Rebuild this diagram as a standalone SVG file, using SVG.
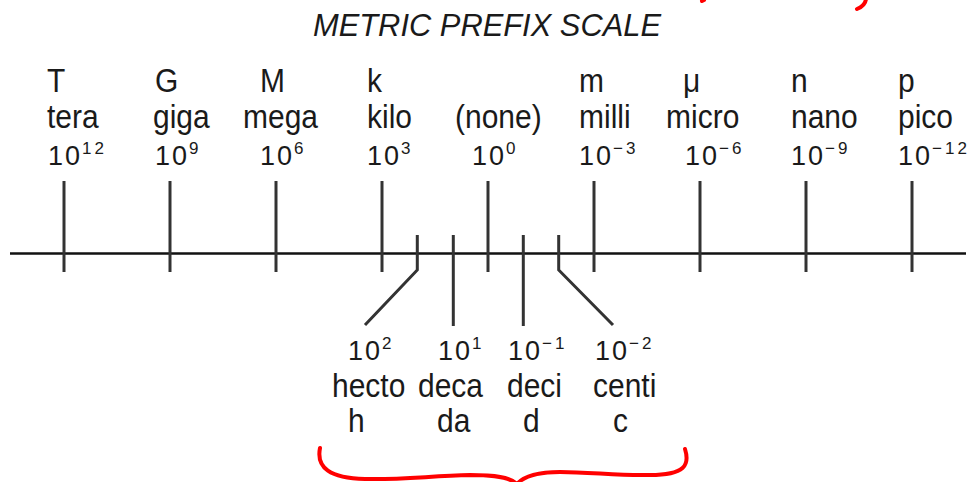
<svg xmlns="http://www.w3.org/2000/svg" width="972" height="482" viewBox="0 0 972 482">
<style>
  text { font-family: "Liberation Sans", Arial, sans-serif; fill: #1a1a1a; }
  .title { font-size: 29px; font-style: italic; }
  .lbl { font-size: 30px; }
  .num { font-size: 27px; letter-spacing: 2px; }
  .sup { font-size: 17px; letter-spacing: 3px; }
  .axis { stroke: #111; stroke-width: 2.5; fill: none; }
  .tick { stroke: #333; stroke-width: 3; fill: none; stroke-linejoin: miter; }
  .red { stroke: #ff0000; stroke-width: 4; fill: none; stroke-linecap: round; stroke-linejoin: round; }
</style>
<rect width="972" height="482" fill="#ffffff"/>

<text class="title" x="487" y="36" text-anchor="middle" textLength="348" lengthAdjust="spacingAndGlyphs" transform="translate(0,-4) scale(1,1.1)">METRIC PREFIX SCALE</text>

<g id="connectors">
  <line class="axis" x1="10" y1="253.5" x2="966" y2="253.5"/>
  <line class="tick" x1="64" y1="181" x2="64" y2="272"/>
  <line class="tick" x1="170" y1="181" x2="170" y2="272"/>
  <line class="tick" x1="276" y1="181" x2="276" y2="272"/>
  <line class="tick" x1="382" y1="181" x2="382" y2="272"/>
  <line class="tick" x1="488" y1="181" x2="488" y2="272"/>
  <line class="tick" x1="594" y1="181" x2="594" y2="272"/>
  <line class="tick" x1="700" y1="181" x2="700" y2="272"/>
  <line class="tick" x1="806" y1="181" x2="806" y2="272"/>
  <line class="tick" x1="912" y1="181" x2="912" y2="272"/>
  <polyline class="tick" points="417.3,235 417.3,270 365,325"/>
  <line class="tick" x1="453.3" y1="235" x2="453.3" y2="326"/>
  <line class="tick" x1="523.3" y1="235" x2="523.3" y2="326"/>
  <polyline class="tick" points="558.7,235 558.7,270 613,325"/>
</g>

<g id="tera">
  <text class="lbl" transform="translate(47,92) scale(1,1.12)">T</text>
  <text class="lbl" transform="translate(47,128) scale(1,1.12)">tera</text>
  <text class="num" x="48" y="165">10<tspan class="sup" dy="-11">12</tspan></text>
</g>
<g id="giga">
  <text class="lbl" transform="translate(155,92) scale(1,1.12)">G</text>
  <text class="lbl" transform="translate(153,128) scale(1,1.12)">giga</text>
  <text class="num" x="155" y="165">10<tspan class="sup" dy="-11">9</tspan></text>
</g>
<g id="mega">
  <text class="lbl" transform="translate(260,92) scale(1,1.12)">M</text>
  <text class="lbl" transform="translate(243,128) scale(1,1.12)">mega</text>
  <text class="num" x="260" y="165">10<tspan class="sup" dy="-11">6</tspan></text>
</g>
<g id="kilo">
  <text class="lbl" transform="translate(367,92) scale(1,1.12)">k</text>
  <text class="lbl" transform="translate(367,128) scale(1,1.12)">kilo</text>
  <text class="num" x="367" y="165">10<tspan class="sup" dy="-11">3</tspan></text>
</g>
<g id="none">
  <text class="lbl" transform="translate(455,128) scale(1,1.12)">(none)</text>
  <text class="num" x="472" y="165">10<tspan class="sup" dy="-11">0</tspan></text>
</g>
<g id="milli">
  <text class="lbl" transform="translate(579,92) scale(1,1.12)">m</text>
  <text class="lbl" transform="translate(579,128) scale(1,1.12)">milli</text>
  <text class="num" x="579" y="165">10<tspan class="sup" dy="-11">−3</tspan></text>
</g>
<g id="micro">
  <text class="lbl" transform="translate(683,92) scale(1,1.12)">μ</text>
  <text class="lbl" transform="translate(666,128) scale(1,1.12)">micro</text>
  <text class="num" x="685" y="165">10<tspan class="sup" dy="-11">−6</tspan></text>
</g>
<g id="nano">
  <text class="lbl" transform="translate(791,92) scale(1,1.12)">n</text>
  <text class="lbl" transform="translate(791,128) scale(1,1.12)">nano</text>
  <text class="num" x="791" y="165">10<tspan class="sup" dy="-11">−9</tspan></text>
</g>
<g id="pico">
  <text class="lbl" transform="translate(898,92) scale(1,1.12)">p</text>
  <text class="lbl" transform="translate(898,128) scale(1,1.12)">pico</text>
  <text class="num" x="898" y="165">10<tspan class="sup" dy="-11">−12</tspan></text>
</g>

<g id="hecto">
  <text class="num" x="348" y="360">10<tspan class="sup" dy="-11">2</tspan></text>
  <text class="lbl" transform="translate(332,397) scale(1,1.12)">hecto</text>
  <text class="lbl" transform="translate(348,432) scale(1,1.12)">h</text>
</g>
<g id="deca">
  <text class="num" x="438" y="360">10<tspan class="sup" dy="-11">1</tspan></text>
  <text class="lbl" transform="translate(418,397) scale(1,1.12)">deca</text>
  <text class="lbl" transform="translate(437,432) scale(1,1.12)">da</text>
</g>
<g id="deci">
  <text class="num" x="508" y="360">10<tspan class="sup" dy="-11">−1</tspan></text>
  <text class="lbl" transform="translate(507,397) scale(1,1.12)">deci</text>
  <text class="lbl" transform="translate(523,432) scale(1,1.12)">d</text>
</g>
<g id="centi">
  <text class="num" x="595" y="360">10<tspan class="sup" dy="-11">−2</tspan></text>
  <text class="lbl" transform="translate(593,397) scale(1,1.12)">centi</text>
  <text class="lbl" transform="translate(613,432) scale(1,1.12)">c</text>
</g>

<g id="annotations">
  <path class="red" d="M320,448 C316,468 330,478 365,479 C400,480 430,476 470,475 C495,475 510,477 517,484 C524,476 540,472 560,472 C590,472 620,476 650,475 C685,475 690,465 685,449"/>
  <path class="red" d="M702,1 L704,0"/>
  <path class="red" d="M866,-2 C866,3 862,7 857,9"/>
</g>
</svg>
